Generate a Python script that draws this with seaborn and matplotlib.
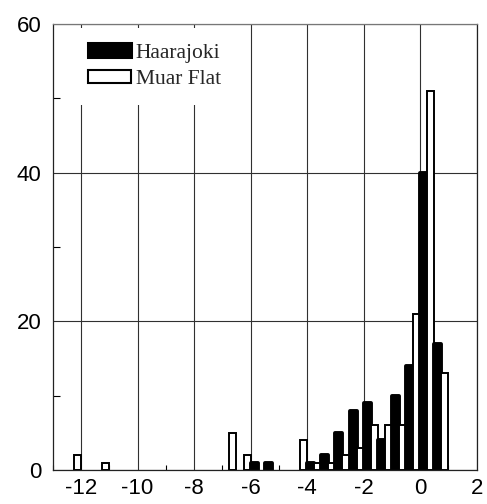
import numpy as np
import pandas as pd
import matplotlib
matplotlib.use("Agg")
import matplotlib.pyplot as plt
from matplotlib.patches import Patch
from matplotlib.ticker import MultipleLocator
import seaborn as sns

# ---- data (bin start, count); bin width 0.5 ----
haarajoki_bins = [-6.0, -5.5, -4.0, -3.5, -3.0, -2.5, -2.0, -1.5, -1.0, -0.5, 0.0, 0.5]
haarajoki_counts = [1, 1, 1, 2, 5, 8, 9, 4, 10, 14, 40, 17]

muar_bins = [-12.5, -11.5, -7.0, -6.5, -4.5, -4.0, -3.5, -3.0, -2.5, -2.0, -1.5, -1.0, -0.5, 0.0, 0.5]
muar_counts = [2, 1, 5, 2, 4, 1, 1, 2, 3, 6, 6, 6, 21, 51, 13]

series_names = ["Haarajoki", "Muar Flat"]
x_ticks = [-12, -10, -8, -6, -4, -2, 0, 2]
y_ticks = [0, 20, 40, 60]
bin_width = 0.5

df = pd.concat([
    pd.DataFrame({"value": np.array(haarajoki_bins) + bin_width / 2,
                  "count": haarajoki_counts, "series": series_names[0]}),
    pd.DataFrame({"value": np.array(muar_bins) + bin_width / 2,
                  "count": muar_counts, "series": series_names[1]}),
], ignore_index=True)

sns.set_theme(style="white")
plt.rcParams["font.family"] = ["Liberation Sans", "DejaVu Sans"]
plt.rcParams["axes.unicode_minus"] = False

fig = plt.figure(figsize=(4.87, 5.04), dpi=100)
ax = fig.add_axes([52.7 / 487, 1 - 470 / 504, (476.7 - 52.7) / 487, (470 - 24) / 504])

sns.histplot(data=df, x="value", weights="count", hue="series",
             hue_order=series_names, binwidth=bin_width, binrange=(-13, 2),
             multiple="dodge", shrink=1,
             palette={series_names[0]: "black", series_names[1]: "white"},
             edgecolor="black", alpha=1, legend=False, ax=ax)

for p in ax.patches:
    if p.get_height() <= 0:
        p.set_visible(False)
        continue
    fc = p.get_facecolor()
    if fc[0] < 0.5:
        p.set_linewidth(2.8)
        p.set_joinstyle("round")
    else:
        p.set_linewidth(1.4)
        p.set_joinstyle("miter")
    p.set_zorder(2 + (p.get_x() + 13) * 0.01)

ax.set_xlim(-13, 2)
ax.set_ylim(0, 60)
ax.set_xticks(x_ticks)
ax.set_yticks(y_ticks)
ax.set_xticklabels([str(t) for t in x_ticks])
ax.set_yticklabels([str(t) for t in y_ticks])
ax.xaxis.set_minor_locator(MultipleLocator(1))
ax.yaxis.set_minor_locator(MultipleLocator(10))
ax.tick_params(axis="both", which="major", direction="in", length=0,
               labelsize=16, colors="black")
ax.tick_params(axis="x", which="major", pad=6)
ax.tick_params(axis="y", which="major", pad=8)
ax.tick_params(axis="x", which="minor", direction="in", length=3.5, width=0.8,
               bottom=True, color="black")
ax.tick_params(axis="y", which="minor", direction="in", length=5, width=0.8,
               left=True, color="black")
ax.set_xlabel("")
ax.set_ylabel("")

ax.grid(True, which="major", color="#303030", linewidth=0.8)
ax.set_axisbelow(True)
for side in ["left", "bottom", "top", "right"]:
    ax.spines[side].set_visible(True)
    ax.spines[side].set_color("#222222")
    ax.spines[side].set_linewidth(0.9)
    ax.spines[side].set_zorder(10)
ax.spines["top"].set_color("#777777")

handles = [
    Patch(facecolor="black", edgecolor="black", linewidth=2.2, joinstyle="round"),
    Patch(facecolor="white", edgecolor="black", linewidth=1.5),
]
leg = ax.legend(handles, series_names, loc="upper left",
                bbox_to_anchor=((72 - 52.7) / 424, 1.0 - 4 / 446), borderaxespad=0,
                frameon=True, fancybox=False, facecolor="white", edgecolor="white",
                framealpha=1, borderpad=0.72, handlelength=2.0, handleheight=0.62,
                handletextpad=0.25, labelspacing=0.3,
                prop={"family": ["Liberation Serif", "DejaVu Serif"], "size": 15.5})
leg.get_frame().set_linewidth(0)
leg.set_zorder(5)

fig.savefig("out.png", dpi=100, facecolor="white")
